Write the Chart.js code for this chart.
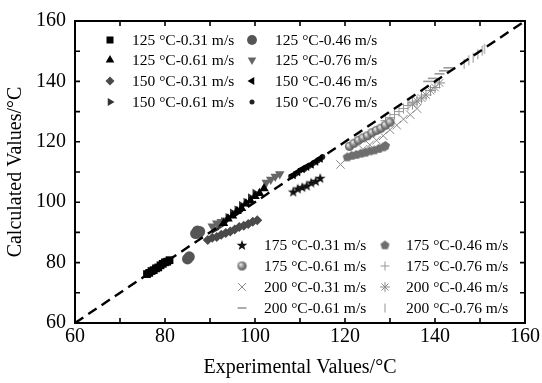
<!DOCTYPE html>
<html>
<head>
<meta charset="utf-8">
<script src="https://cdn.jsdelivr.net/npm/chart.js@4/dist/chart.umd.min.js"></script>
<style>
  html, body { margin: 0; padding: 0; background: #fff; }
  #wrap { width: 542px; height: 383px; }
</style>
</head>
<body>
<div id="wrap"><canvas id="c" width="542" height="383"></canvas></div>
<script>
// Experimental vs calculated temperatures, [experimental, calculated] in °C
const s125_031 = [[76,76.2],[76.5,76.6],[77,77.2],[77.5,77.5],[78,78.1],[78.5,78.4],[79,79.1],[79.5,79.6],[80,80.1],[80.5,80.3],[81,80.8]];
const s125_046 = [[85,81.2],[85.4,81.9],[86.8,89.6],[87.2,90.5],[87.7,90.3],[87.4,89.8]];
const s125_061 = [[93,93],[94,94.5],[95,95.5],[96,97],[97,98],[98,99.5],[99,100.5],[100,102],[101,103],[102,104.5]];
const s125_076 = [[90.5,92],[91.5,93],[92.5,93.5],[93.5,94],[102.5,106.5],[103.5,107.5],[104.5,108.5],[105.5,109.3]];
const s150_031 = [[89.5,87.5],[90.5,88.2],[91.5,88.5],[92.5,89.2],[93.5,89.8],[94.5,90.3],[95.5,91],[96.5,91.8],[97.5,92.2],[98.5,92.8],[99.5,93.5],[100.5,94]];
const s150_046 = [[108.5,109],[109.5,110],[110.5,111],[111.5,111.8],[112.5,112.5],[113.5,113.5],[114.5,114.5]];
const s150_061 = [[91,91],[92,92],[93,93.5],[94,95],[95,96.5],[96,97.5],[97,99],[98,100],[99,101.5],[100,103]];
const s150_076 = [[108,108.5],[109,109.3],[110,110.5],[111,111],[112,112],[113,113],[114,113.8],[115,115]];
const s175_031 = [[108.5,103.5],[109.5,104.5],[110.5,105],[111.5,105.5],[112.5,106.5],[113.5,107],[114.5,108]];
const s175_046 = [[120.5,115],[121.5,115.5],[122.5,115.8],[123.5,116.2],[124.5,116.5],[125.5,117],[126.5,117.3],[127.5,117.8],[128.5,118.3],[129,118.8]];
const s175_061 = [[121,118.5],[122,119.5],[123,120.5],[124,121.3],[125,122],[126,123],[127,123.8],[128,124.5],[129,125.5],[130,126.5]];
const s175_076 = [[129,127],[130,128],[131,129],[132,130],[133,131],[134,132],[135,133]];
const s200_031 = [[119,112.5],[124,117.5],[125.5,119],[127,120.5],[128.5,122],[130,124],[131.5,125.5],[133,127.5],[134.5,129],[136,131]];
const s200_046 = [[135,132.5],[136,133.5],[137,134.5],[138,135.5],[139,137],[140,138],[141,139.5]];
const s200_061 = [[138.5,140],[139.5,141],[141,142.5],[142,143.5],[143,144.5]];
const s200_076 = [[146.5,145.8],[147.5,147],[148.5,147.8],[149.5,149],[150.5,150.2],[151,150.8]];

const seriesLabels = [
  '125 °C-0.31 m/s','125 °C-0.46 m/s','125 °C-0.61 m/s','125 °C-0.76 m/s',
  '150 °C-0.31 m/s','150 °C-0.46 m/s','150 °C-0.61 m/s','150 °C-0.76 m/s',
  '175 °C-0.31 m/s','175 °C-0.46 m/s','175 °C-0.61 m/s','175 °C-0.76 m/s',
  '200 °C-0.31 m/s','200 °C-0.46 m/s','200 °C-0.61 m/s','200 °C-0.76 m/s'
];
const seriesData = [s125_031,s125_046,s125_061,s125_076,s150_031,s150_046,s150_061,s150_076,
                    s175_031,s175_046,s175_061,s175_076,s200_031,s200_046,s200_061,s200_076];
const parityLine = [60, 160];
const tickValues = [60, 80, 100, 120, 140, 160];

// Custom marker sprites
function makeSprite(size, draw) {
  const c = document.createElement('canvas');
  c.width = size; c.height = size;
  draw(c.getContext('2d'), size);
  return c;
}
const starSprite = makeSprite(12, (g, s) => {
  const cx = s / 2, cy = s / 2 + 0.5, R = 5.6, r = 2.3;
  g.beginPath();
  for (let i = 0; i < 10; i++) {
    const a = -Math.PI / 2 + i * Math.PI / 5;
    const rr = i % 2 === 0 ? R : r;
    g.lineTo(cx + rr * Math.cos(a), cy + rr * Math.sin(a));
  }
  g.closePath(); g.fillStyle = '#111'; g.fill();
});
const pentSprite = makeSprite(11, (g, s) => {
  const cx = s / 2, cy = s / 2 + 0.4, R = 4.8;
  g.beginPath();
  for (let i = 0; i < 5; i++) {
    const a = -Math.PI / 2 + i * 2 * Math.PI / 5;
    g.lineTo(cx + R * Math.cos(a), cy + R * Math.sin(a));
  }
  g.closePath(); g.fillStyle = '#6e6e6e'; g.fill();
});
const sphereSprite = makeSprite(11, (g, s) => {
  const grd = g.createRadialGradient(s / 2 - 1.5, s / 2 - 1.5, 0.5, s / 2, s / 2, 5);
  grd.addColorStop(0, '#e6e6e6'); grd.addColorStop(0.5, '#8a8a8a'); grd.addColorStop(1, '#4a4a4a');
  g.beginPath(); g.arc(s / 2, s / 2, 4.6, 0, Math.PI * 2); g.fillStyle = grd; g.fill();
});

// Marker styling for each series (same order as seriesLabels)
const markers = [
  { pointStyle: 'rect', radius: 5.5, color: '#000', rotation: 0, borderWidth: 0 },
  { pointStyle: 'circle', radius: 5.5, color: '#555', rotation: 0, borderWidth: 0 },
  { pointStyle: 'triangle', radius: 5.5, color: '#000', rotation: 0, borderWidth: 0 },
  { pointStyle: 'triangle', radius: 5.5, color: '#666', rotation: 180, borderWidth: 0 },
  { pointStyle: 'rectRot', radius: 5, color: '#4a4a4a', rotation: 0, borderWidth: 0 },
  { pointStyle: 'triangle', radius: 5, color: '#000', rotation: -90, borderWidth: 0 },
  { pointStyle: 'triangle', radius: 5, color: '#333', rotation: 90, borderWidth: 0 },
  { pointStyle: 'circle', radius: 2.8, color: '#222', rotation: 0, borderWidth: 0 },
  { pointStyle: starSprite, radius: 6, color: '#111', rotation: 0, borderWidth: 0 },
  { pointStyle: pentSprite, radius: 5, color: '#6e6e6e', rotation: 0, borderWidth: 0 },
  { pointStyle: sphereSprite, radius: 5, color: '#777', rotation: 0, borderWidth: 0 },
  { pointStyle: 'cross', radius: 5, color: '#999', rotation: 0, borderWidth: 1 },
  { pointStyle: 'crossRot', radius: 6, color: '#888', rotation: 0, borderWidth: 1 },
  { pointStyle: 'star', radius: 5.5, color: '#8c8c8c', rotation: 0, borderWidth: 1 },
  { pointStyle: 'line', radius: 5, color: '#999', rotation: 0, borderWidth: 1.6 },
  { pointStyle: 'line', radius: 5, color: '#bbb', rotation: 90, borderWidth: 1.6 }
];

const datasets = [{
  type: 'line',
  label: 'y = x',
  data: parityLine.map(v => ({ x: v, y: v })),
  borderColor: '#000', borderWidth: 2.4, borderDash: [10, 6],
  pointRadius: 0, fill: false
}];
seriesData.forEach((arr, i) => {
  const m = markers[i];
  datasets.push({
    label: seriesLabels[i],
    data: arr.map(p => ({ x: p[0], y: p[1] })),
    pointStyle: m.pointStyle, pointRadius: m.radius, pointRotation: m.rotation,
    backgroundColor: m.color, borderColor: m.color, pointBorderWidth: m.borderWidth
  });
});

const SERIF = '"Liberation Serif", "DejaVu Serif", serif';

// Frame with inward tick marks on all four sides
const framePlugin = {
  id: 'frame',
  afterDraw(chart) {
    const { ctx, chartArea: a, scales: { x, y } } = chart;
    ctx.save();
    ctx.strokeStyle = '#000';
    ctx.lineWidth = 2;
    ctx.strokeRect(a.left, a.top, a.right - a.left, a.bottom - a.top);
    ctx.lineWidth = 1.6;
    ctx.beginPath();
    for (let v = 70; v < 160; v += 10) {
      const px = x.getPixelForValue(v);
      ctx.moveTo(px, a.bottom); ctx.lineTo(px, a.bottom - 5);
      ctx.moveTo(px, a.top); ctx.lineTo(px, a.top + 5);
      const py = y.getPixelForValue(v);
      ctx.moveTo(a.left, py); ctx.lineTo(a.left + 5, py);
      ctx.moveTo(a.right, py); ctx.lineTo(a.right - 5, py);
    }
    ctx.stroke();
    ctx.restore();
  }
};

// Two legend blocks: upper-left for 125/150 °C, lower-right for 175/200 °C
const legendPlugin = {
  id: 'splitLegend',
  afterDraw(chart) {
    const { ctx } = chart;
    const blocks = [
      { start: 0, cols: [110, 252], texts: [132, 275], rows: [40, 60, 81, 102] },
      { start: 8, cols: [242, 385], texts: [264, 406], rows: [245, 266, 287, 308] }
    ];
    ctx.save();
    ctx.font = '15.5px ' + SERIF;
    ctx.textBaseline = 'middle';
    ctx.textAlign = 'left';
    blocks.forEach(b => {
      for (let r = 0; r < 4; r++) {
        for (let c = 0; c < 2; c++) {
          const idx = b.start + r * 2 + c;
          const m = markers[idx];
          ctx.save();
          ctx.fillStyle = m.color; ctx.strokeStyle = m.color;
          ctx.lineWidth = m.borderWidth || 1;
          Chart.helpers.drawPoint(ctx, {
            pointStyle: m.pointStyle, radius: m.radius * 0.9, rotation: m.rotation, borderWidth: m.borderWidth
          }, b.cols[c], b.rows[r]);
          ctx.restore();
          ctx.fillStyle = '#000';
          ctx.fillText(seriesLabels[idx], b.texts[c], b.rows[r] + 1);
        }
      }
    });
    ctx.restore();
  }
};

new Chart(document.getElementById('c'), {
  type: 'scatter',
  data: { datasets },
  options: {
    responsive: false,
    animation: false,
    devicePixelRatio: 1,
    layout: { padding: { top: 12, right: 15, left: 0, bottom: 0 } },
    plugins: { legend: { display: false }, tooltip: { enabled: false } },
    scales: {
      x: {
        type: 'linear', min: 60, max: 160,
        afterBuildTicks: s => { s.ticks = tickValues.map(v => ({ value: v })); },
        ticks: { color: '#000', font: { family: SERIF, size: 20 }, padding: 2, maxRotation: 0, autoSkip: false },
        grid: { display: false, drawTicks: false },
        border: { display: false },
        title: { display: true, text: 'Experimental Values/°C', color: '#000', font: { family: SERIF, size: 20 }, padding: { top: 0, bottom: 3 } },
        afterFit: s => { s.height = 60; }
      },
      y: {
        type: 'linear', min: 60, max: 160,
        afterBuildTicks: s => { s.ticks = tickValues.map(v => ({ value: v })); },
        ticks: { color: '#000', font: { family: SERIF, size: 20 }, padding: 9, autoSkip: false },
        grid: { display: false, drawTicks: false },
        border: { display: false },
        title: { display: true, text: 'Calculated Values/°C', color: '#000', font: { family: SERIF, size: 20 }, padding: { top: 4, bottom: 0 } },
        afterFit: s => { s.width = 75; }
      }
    }
  },
  plugins: [framePlugin, legendPlugin]
});
</script>
</body>
</html>
